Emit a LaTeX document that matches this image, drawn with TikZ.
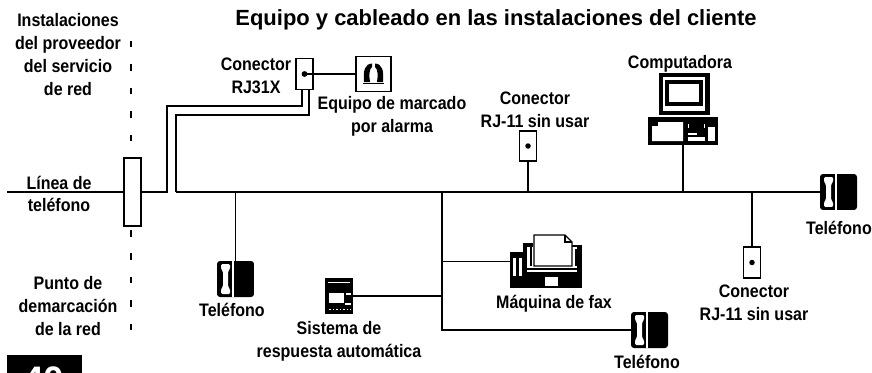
\documentclass[tikz,border=0pt]{standalone}
\usepackage{fontspec}
\setmainfont{Liberation Sans}[FakeStretch=0.885]
\newfontfamily\titlefont{Liberation Sans}
\begin{document}
\begin{tikzpicture}[x=0.02cm, y=-0.02cm, every node/.style={font=\fontsize{10.3}{13}\selectfont\bfseries}]
    % Styles
    \tikzstyle{cable} = [line width=1.1pt]
    \tikzstyle{limit} = [line width=1.1pt, dash pattern=on 0.13cm off 0.34cm]
    \tikzstyle{caption} = [align=center, inner sep=0pt]
    \tikzstyle{jack} = [rectangle, draw=black, line width=1.1pt, fill=white, minimum width=0.34cm, minimum height=0.6cm, inner sep=0pt,
        path picture={\fill[black] (path picture bounding box.center) circle (0.55mm);}]
    \tikzstyle{phone} = [rectangle, rounded corners=0.6mm, fill=black, minimum width=0.74cm, minimum height=0.72cm, inner sep=0pt,
        path picture={
            \fill[white, sharp corners, shift={(path picture bounding box.center)}] (-0.65mm,-4mm) rectangle (-0.35mm,4mm);
            \fill[white, rounded corners=0.25mm, shift={(path picture bounding box.center)}]
                (-2.9mm,3mm) -- (-1.1mm,3mm) -- (-1.1mm,2mm) -- (-1.5mm,1.5mm) -- (-1.5mm,-1.5mm) -- (-1.1mm,-2mm)
                -- (-1.1mm,-3mm) -- (-2.9mm,-3mm) -- (-2.9mm,-2mm) -- (-2.5mm,-1.5mm) -- (-2.5mm,1.5mm) -- (-2.9mm,2mm) -- cycle;}]
    \tikzstyle{demarc} = [rectangle, draw=black, line width=1.1pt, fill=white, minimum width=0.34cm, minimum height=1.36cm, inner sep=0pt]
    \tikzstyle{device} = [rectangle, fill=black, inner sep=0pt]

    \useasboundingbox (0,0) rectangle (872,372);

    % Nodes
    \node (demarcacion) [demarc] at (132.5,192) {};
    \node (rjtreintauno) [jack, minimum height=0.62cm] at (304.5,74) {};
    \node (alarma) [rectangle, draw=black, line width=1.1pt, minimum size=0.7cm, inner sep=0pt] at (373.5,74) {};
    \node (rjmedio) [jack] at (528,146) {};
    \node (monitor) [device, minimum width=1.02cm, minimum height=0.84cm] at (684.5,94) {};
    \node (cpu) [device, minimum width=1.4cm, minimum height=0.56cm] at (683,131) {};
    \node (telder) [phone] at (838.5,192) {};
    \node (telizq) [phone] at (235.5,279) {};
    \node (contestador) [device, minimum width=0.56cm, minimum height=0.72cm] at (339,296) {};
    \node (fax) [rectangle, minimum width=1.44cm, minimum height=1.06cm, inner sep=0pt] at (546,261.5) {};
    \node (telabajo) [phone] at (649.5,330) {};
    \node (rjder) [jack, minimum height=0.62cm] at (752,262.5) {};

    \coordinate (linea) at (7,192);
    \coordinate (busizq) at (176,192);
    \coordinate (rama) at (442,192);

    % Alarm dialer
    \fill (364,82) .. controls (363,70) and (365,64) .. (372,63.5) -- (372,67)
        .. controls (369,69) and (369,76) .. (370,82) -- cycle;
    \fill (383,82) .. controls (384,70) and (382,64) .. (375,63.5) -- (375,67)
        .. controls (378,69) and (378,76) .. (377,82) -- cycle;
    \draw [line width=0.8pt] (363,83.5) -- (384,83.5);

    % Computer
    \fill[white] (663,77) rectangle (705,111);
    \fill[black] (665,80) rectangle (703,106);
    \fill[white] (669,84) rectangle (699,102);
    \fill[white] (652,126) -- (658,126) -- (658,122) -- (683,122) -- (683,141) -- (652,141) -- cycle;
    \fill[white] (708,127) rectangle (715,141);
    \fill[white] (688,133) rectangle (697,135);
    \fill[white] (688,137) rectangle (705,141);
    \fill[white] (688,124) rectangle (689,128);
    \fill[white] (704,124) rectangle (705,128);

    % Fax machine
    \fill[black] (510,252) rectangle (582,288);
    \fill[black] (523,243) rectangle (533,252);
    \fill[black] (572,245) rectangle (582,252);
    \fill[white] (527,247) rectangle (577,272);
    \fill[black] (527,268) rectangle (577,270);
    \fill[black] (530,247) rectangle (532,266);
    \fill[black] (575,249) rectangle (577,266);
    \draw[fill=white, line width=0.8pt] (534,235) -- (565,235) -- (572,242) -- (572,266) -- (534,266) -- cycle;
    \draw[line width=0.8pt] (565,235) -- (565,242) -- (572,242);
    \fill[white] (513,258) rectangle (516,276);
    \fill[white] (519,258) rectangle (522,276);
    \fill[white] (545,277) rectangle (558,286);

    % Answering machine
    \fill[white] (328,281.5) rectangle (350,282.5);
    \fill[white] (329,293) rectangle (344,303);
    \fill[white] (346,293) rectangle (351,295);
    \fill[white] (345,303) rectangle (351,304.5);
    \draw[white, line width=0.4pt, dash pattern=on 1pt off 1pt] (329,309) -- (351,309);

    % Lines
    \draw [limit] (131,41) -- (131,146);
    \draw [limit] (131,230) -- (131,334);
    \draw [cable] (linea) -- (demarcacion);
    \draw [cable] ([xshift=-0.05cm]rjtreintauno.south) |- (167,106) |- (demarcacion.east);
    \draw [cable] ([xshift=0.09cm]rjtreintauno.south) |- (176,115) -- (busizq);
    \draw [cable] (busizq) -- (telder.west);
    \draw [cable] (rjtreintauno.center) -- (alarma.west);
    \draw [cable] (telizq.north) -- (telizq.north |- busizq);
    \draw [cable] (rjmedio.south) -- (rjmedio.south |- busizq);
    \draw [cable] (cpu.south) -- (cpu.south |- busizq);
    \draw [cable] (rjder.north) -- (rjder.north |- busizq);
    \draw [cable] (rama) |- (telabajo.west);
    \draw [cable] (fax.west) -- (fax.west -| rama);
    \draw [cable] (contestador.east) -- (contestador.east -| rama);
    \fill (rjtreintauno.center) circle (0.55mm);

    % Captions
    \node (titulo) [caption, font=\titlefont\fontsize{12.5}{15}\selectfont\bfseries] at (496,20) {Equipo y cableado en las instalaciones del cliente};
    \node (proveedor) [caption] at (68,54.5) {Instalaciones\\del proveedor\\del servicio\\de red};
    \node (lineatxt) [caption] at (59,194) {Línea de\\teléfono};
    \node (punto) [caption] at (68,306) {Punto de\\demarcación\\de la red};
    \node (rjtreintaunotxt) [caption] at (256,76) {Conector\\RJ31X};
    \node (alarmatxt) [caption] at (392,116) {Equipo de marcado\\por alarma};
    \node (rjmediotxt) [caption] at (535,110) {Conector\\RJ-11 sin usar};
    \node (cputxt) [caption] at (680,64) {Computadora};
    \node (teldertxt) [caption] at (839,228) {Teléfono};
    \node (telizqtxt) [caption] at (232,310) {Teléfono};
    \node (contestadortxt) [caption] at (339,341) {Sistema de\\respuesta automática};
    \node (faxtxt) [caption] at (554,304) {Máquina de fax};
    \node (telabajotxt) [caption] at (647,362) {Teléfono};
    \node (rjdertxt) [caption] at (754,303) {Conector\\RJ-11 sin usar};

    % Page tab
    \begin{scope}
        \clip (0,0) rectangle (872,372);
        \fill (7,355) rectangle (82,390);
        \node (pagina) [text=white, inner sep=0pt, font=\titlefont\fontsize{21}{21}\selectfont\bfseries] at (44,380) {40};
    \end{scope}
\end{tikzpicture}
\end{document}
